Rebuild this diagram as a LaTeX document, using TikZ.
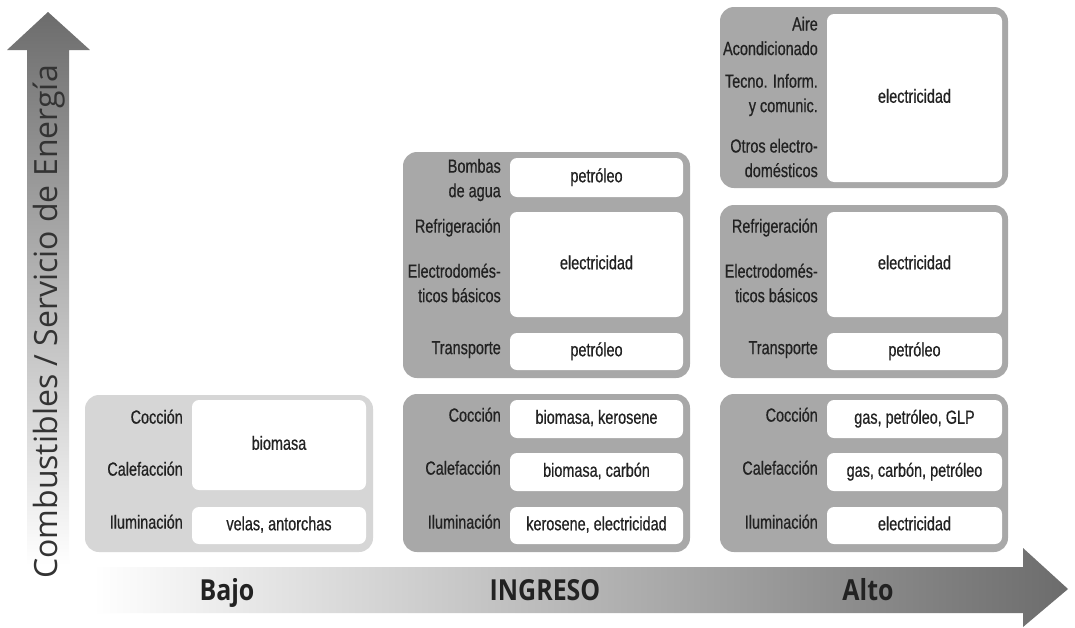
\documentclass[tikz,border=0pt]{standalone}
\usepackage{fontspec}
\setmainfont{Liberation Sans}
\newfontfamily\condf{Liberation Sans}[FakeStretch=0.76, FakeBold=0.6]
\newfontfamily\axisf{Open Sans}
\newfontfamily\incf{Open Sans}[FakeStretch=0.86]
\definecolor{lightbox}{HTML}{D6D6D6}
\definecolor{darkbox}{HTML}{A8A8A8}
\definecolor{arrowgray}{HTML}{6C6C6C}
\definecolor{ink}{HTML}{222222}
\begin{document}
\begin{tikzpicture}[x=1pt,y=-1pt,
  outerlight/.style={fill=lightbox, rounded corners=14pt, inner sep=0pt},
  outerdark/.style={fill=darkbox, rounded corners=14pt, inner sep=0pt},
  cell/.style={fill=white, rounded corners=7pt, inner sep=0pt, text=ink,
    font=\condf\fontsize{19}{24.5}\selectfont, text height=13.5pt, text depth=4pt},
  lab/.style={anchor=mid east, inner sep=0pt, text=ink, font=\condf\fontsize{19}{24.5}\selectfont},
  labm/.style={anchor=east, align=right, inner sep=0pt, text=ink, font=\condf\fontsize{19}{24.5}\selectfont},
  inc/.style={anchor=base, inner sep=0pt, text=ink, font=\incf\bfseries\fontsize{29}{30}\selectfont}]
\useasboundingbox (0,0) rectangle (1075,627);
\fill[white] (0,0) rectangle (1075,627);

% axes
\shade[top color=arrowgray, bottom color=white]
  (27,565) -- (27,50) -- (7,50) -- (48,12) -- (90,50) -- (69,50) -- (69,565) -- cycle;
\shade[left color=white, right color=arrowgray]
  (93,567) -- (1023,567) -- (1023,548) -- (1068,589) -- (1023,627) -- (1023,613) -- (93,613) -- cycle;
\node[rotate=90, inner sep=0pt, text=black!80, font=\axisf\fontsize{32}{32}\selectfont] (ylab) at (49,322) {Combustibles / Servicio de Energía};
\node[inc] (bajo) at (227,600) {Bajo};
\node[inc] (ingreso) at (545,600) {INGRESO};
\node[inc] (alto) at (868,600) {Alto};

% ---- Bajo ----
\node[outerlight, minimum width=288pt, minimum height=157pt] (b1) at (229,473.5) {};
\node[cell, minimum width=174pt, minimum height=90pt] (b1c1) at (279,445) {biomasa};
\node[cell, minimum width=174pt, minimum height=37pt] (b1c2) at (279,525.5) {velas, antorchas};
\node[lab] (b1l1) at (183,421) {Cocción};
\node[lab] (b1l2) at (183,473) {Calefacción};
\node[lab] (b1l3) at (183,526) {Iluminación};

% ---- Medio, abajo ----
\node[outerdark, minimum width=287pt, minimum height=158pt] (b2) at (546.5,473) {};
\node[cell, minimum width=173pt, minimum height=38pt] (b2c1) at (596.5,419) {biomasa, kerosene};
\node[cell, minimum width=173pt, minimum height=38pt] (b2c2) at (596.5,472) {biomasa, carbón};
\node[cell, minimum width=173pt, minimum height=37pt] (b2c3) at (596.5,525.5) {kerosene, electricidad};
\node[lab] (b2l1) at (501,419) {Cocción};
\node[lab] (b2l2) at (501,472) {Calefacción};
\node[lab] (b2l3) at (501,526) {Iluminación};

% ---- Medio, arriba ----
\node[outerdark, minimum width=287pt, minimum height=226pt] (b3) at (546.5,265) {};
\node[cell, minimum width=173pt, minimum height=39pt] (b3c1) at (596.5,177.5) {petróleo};
\node[cell, minimum width=173pt, minimum height=105pt] (b3c2) at (596.5,264.5) {electricidad};
\node[cell, minimum width=173pt, minimum height=37pt] (b3c3) at (596.5,351.5) {petróleo};
\node[labm] (b3l1) at (501,180) {Bombas\\de agua};
\node[lab] (b3l2) at (501,230) {Refrigeración};
\node[labm] (b3l3) at (501,283) {Electrodomés-\\ticos básicos};
\node[lab] (b3l4) at (501,351.5) {Transporte};

% ---- Alto, abajo ----
\node[outerdark, minimum width=288pt, minimum height=158pt] (b4) at (864,473) {};
\node[cell, minimum width=175pt, minimum height=38pt] (b4c1) at (914.5,419) {gas, petróleo, GLP};
\node[cell, minimum width=175pt, minimum height=38pt] (b4c2) at (914.5,472) {gas, carbón, petróleo};
\node[cell, minimum width=175pt, minimum height=37pt] (b4c3) at (914.5,525.5) {electricidad};
\node[lab] (b4l1) at (818,419) {Cocción};
\node[lab] (b4l2) at (818,472) {Calefacción};
\node[lab] (b4l3) at (818,526) {Iluminación};

% ---- Alto, medio ----
\node[outerdark, minimum width=288pt, minimum height=173pt] (b5) at (864,291.5) {};
\node[cell, minimum width=175pt, minimum height=105pt] (b5c1) at (914.5,264.5) {electricidad};
\node[cell, minimum width=175pt, minimum height=37pt] (b5c2) at (914.5,351.5) {petróleo};
\node[lab] (b5l1) at (818,230) {Refrigeración};
\node[labm] (b5l2) at (818,283) {Electrodomés-\\ticos básicos};
\node[lab] (b5l3) at (818,351.5) {Transporte};

% ---- Alto, arriba ----
\node[outerdark, minimum width=288pt, minimum height=181pt] (b6) at (864,97.5) {};
\node[cell, minimum width=175pt, minimum height=168pt] (b6c1) at (914.5,98) {electricidad};
\node[labm] (b6l1) at (818,36) {Aire\\Acondicionado};
\node[labm] (b6l2) at (818,95) {Tecno. Inform.\\y comunic.};
\node[labm] (b6l3) at (818,158) {Otros electro-\\domésticos};
\end{tikzpicture}
\end{document}
